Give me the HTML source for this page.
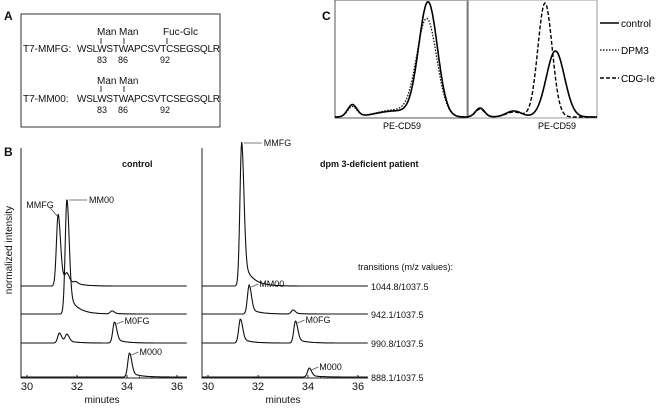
<!DOCTYPE html>
<html><head><meta charset="utf-8"><style>
body{margin:0;background:#fff}
svg{display:block;font-family:"Liberation Sans",Arial,sans-serif}
</style></head><body>
<svg id="fig" width="656" height="410" viewBox="0 0 656 410">
<g font-size="10" fill="#111">
<text x="4" y="20" font-weight="bold" font-size="12">A</text>
<rect x="21" y="14" width="199" height="113" fill="none" stroke="#333"/>
<text x="97" y="35">Man</text>
<text x="119" y="35">Man</text>
<text x="163" y="35">Fuc-Glc</text>
<path d="M101 38v6M124 38v6M167 38v6M101 86v6M124 86v6" stroke="#333"/>
<text x="23" y="52">T7-MMFG:</text>
<text x="77" y="52" textLength="143">WSLWSTWAPCSVTCSEGSQLR</text>
<text x="97" y="63" font-size="9">83</text>
<text x="118" y="63" font-size="9">86</text>
<text x="160" y="63" font-size="9">92</text>
<text x="97" y="84">Man</text>
<text x="119" y="84">Man</text>
<text x="23" y="102">T7-MM00:</text>
<text x="77" y="102" textLength="143">WSLWSTWAPCSVTCSEGSQLR</text>
<text x="97" y="113" font-size="9">83</text>
<text x="118" y="113" font-size="9">86</text>
<text x="160" y="113" font-size="9">92</text>
</g>
<g id="panelC">
<text x="322" y="20" font-weight="bold" font-size="12">C</text>
<rect x="335" y="0" width="133" height="118" fill="none" stroke="#555"/>
<rect x="467" y="0" width="130" height="118" fill="none" stroke="#999"/>
<text x="402" y="129" font-size="9" text-anchor="middle">PE-CD59</text>
<text x="557" y="129" font-size="9" text-anchor="middle">PE-CD59</text>
<g font-size="10">
<line x1="600" y1="23" x2="619" y2="23" stroke="#000" stroke-width="1.6"/>
<text x="621" y="27">control</text>
<line x1="600" y1="50" x2="619" y2="50" stroke="#000" stroke-width="1.2" stroke-dasharray="1.5,1.5"/>
<text x="621" y="54">DPM3</text>
<line x1="600" y1="78" x2="619" y2="78" stroke="#000" stroke-width="1.4" stroke-dasharray="4,2"/>
<text x="621" y="82">CDG-Ie</text>
</g>
</g>
<g id="panelB" fill="#111">
<text x="4" y="156" font-weight="bold" font-size="12">B</text>
<text transform="translate(12,250) rotate(-90)" font-size="10" text-anchor="middle">normalized intensity</text>
<text x="122" y="167" font-weight="bold" font-size="9">control</text>
<text x="320" y="167" font-weight="bold" font-size="9">dpm 3-deficient patient</text>
<text x="358" y="270" font-size="9">transitions (m/z values):</text>
<text x="102" y="403" font-size="10" text-anchor="middle">minutes</text>
<text x="283" y="403" font-size="10" text-anchor="middle">minutes</text>
</g>
</svg>
<script>
const NS='http://www.w3.org/2000/svg';
const minutes=[30,32,34,36];
const transitionLabels=['1044.8/1037.5','942.1/1037.5','990.8/1037.5','888.1/1037.5'];
const traceOffsets=[92,64,35,1];
// peaks: [retention time, height above baseline]
const controlPeaks=[[[31.25,72],[31.6,8],[31.95,2]],[[31.6,115],[33.4,3]],[[31.3,10],[31.6,8],[33.5,21]],[[34.1,24]]];
const patientPeaks=[[[31.35,144]],[[31.65,29],[33.4,4]],[[31.3,24],[33.5,22]],[[34.05,9]]];
const controlPeakNames=[['MMFG',31.25,72,0],['MM00',31.6,115,1],['M0FG',33.5,21,2],['M000',34.1,24,3]];
const patientPeakNames=[['MMFG',31.35,144,0],['MM00',31.65,29,1],['M0FG',33.5,22,2],['M000',34.05,9,3]];
// flow histograms: components [position 0-1, height, width]
const c1Control=[[0.13,12,0.035],[0.45,6,0.14],[0.7,114,0.07]];
const c1Dpm3=[[0.13,10,0.035],[0.45,7,0.14],[0.69,97,0.075]];
const c2Control=[[0.1,9,0.035],[0.36,6,0.06],[0.68,66,0.07]];
const c2Cdg=[[0.1,8,0.035],[0.36,5,0.06],[0.6,114,0.055]];

const pB=document.getElementById('panelB'), pC=document.getElementById('panelC');
function mk(tag,attrs,parent){const e=document.createElementNS(NS,tag);for(const k in attrs)e.setAttribute(k,attrs[k]);parent.appendChild(e);return e;}
const yBase=378;
function yS(v){return yBase-v;}
function peakShape(t,c,h){const d=t-c;if(d<0)return h*Math.exp(-d*d/(2*0.07*0.07));return h*(0.8*Math.exp(-d*d/(2*0.09*0.09))+0.2*Math.exp(-d/0.35));}
function drawPanel(x0,axisX,peaks,names,side){
  const xS=t=>x0+(t-30)*25;
  const ax=mk('path',{d:'M'+axisX+' 148V378H'+xS(36.4),stroke:'#222',fill:'none','stroke-width':1},pB);
  
  
  for(let t=30;t<=36.4;t+=0.5){mk('line',{x1:xS(t),x2:xS(t),y1:378,y2:(t%2===0)?375:376.5,stroke:'#222'},pB);}
  minutes.forEach(m=>{const tx=mk('text',{x:xS(m),y:390,'font-size':11,'text-anchor':'middle'},pB);tx.textContent=m;
    
    });
  peaks.forEach((pk,i)=>{
    let d='';for(let t=29.75;t<=36.4;t+=0.02){let v=traceOffsets[i];pk.forEach(p=>{v+=peakShape(t,p[0],p[1]);});d+=(d?'L':'M')+xS(t).toFixed(1)+' '+yS(v).toFixed(1);}
    const p=mk('path',{d:d,fill:'none',stroke:'#111','stroke-width':1.1},pB);
    
    
  });
  names.forEach(n=>{
    const px=xS(n[1]),py=yS(traceOffsets[n[3]]+n[2]);
    const tx=mk('text',{'font-size':9},pB);tx.textContent=n[0];
    if(side==='control'&&n[0]==='MMFG'){
      tx.setAttribute('x',px-32);tx.setAttribute('y',py-6);
      mk('line',{x1:px-8,y1:py-6,x2:px-1,y2:py+2,stroke:'#555','stroke-width':0.8},pB);
    }else if(n[0]==='MMFG'){
      tx.setAttribute('x',px+22);tx.setAttribute('y',py+4);
      mk('line',{x1:px+2,y1:py+1,x2:px+20,y2:py+1,stroke:'#555','stroke-width':0.8},pB);
    }else if(side==='control'&&n[0]==='MM00'){
      tx.setAttribute('x',px+22);tx.setAttribute('y',py+4);
      mk('line',{x1:px+2,y1:py+1,x2:px+20,y2:py+1,stroke:'#555','stroke-width':0.8},pB);
    }else{
      tx.setAttribute('x',px+10);tx.setAttribute('y',py+2);
      mk('line',{x1:px+2,y1:py+2,x2:px+9,y2:py-1,stroke:'#555','stroke-width':0.8},pB);
    }
    
    
  });
}
drawPanel(27,21,controlPeaks,controlPeakNames,'control');
drawPanel(208,202,patientPeaks,patientPeakNames,'patient');
transitionLabels.forEach((l,i)=>{const tx=mk('text',{x:371,y:yS(traceOffsets[i])+4,'font-size':9},pB);tx.textContent=l;
  
  });
function hist(comps,bx,bw,dash,sw,name){
  let d='';for(let u=0;u<=1.0001;u+=0.005){let v=0;comps.forEach(c=>{const z=u-c[0];v+=c[1]*Math.exp(-(z*z)/(2*c[2]*c[2]));});d+=(d?'L':'M')+(bx+u*bw).toFixed(1)+' '+(117-v).toFixed(1);}
  const p=mk('path',{d:d,fill:'none',stroke:'#000','stroke-width':sw},pC);
  if(dash)p.setAttribute('stroke-dasharray',dash);
  
  
}
hist(c1Dpm3,335,133,'1.5,1.5',1.2,'histogram-1-dpm3');
hist(c1Control,335,133,null,1.6,'histogram-1-control');
hist(c2Control,467,130,null,1.6,'histogram-2-control');
hist(c2Cdg,467,130,'4,2',1.4,'histogram-2-cdg-ie');
</script>
</body></html>
